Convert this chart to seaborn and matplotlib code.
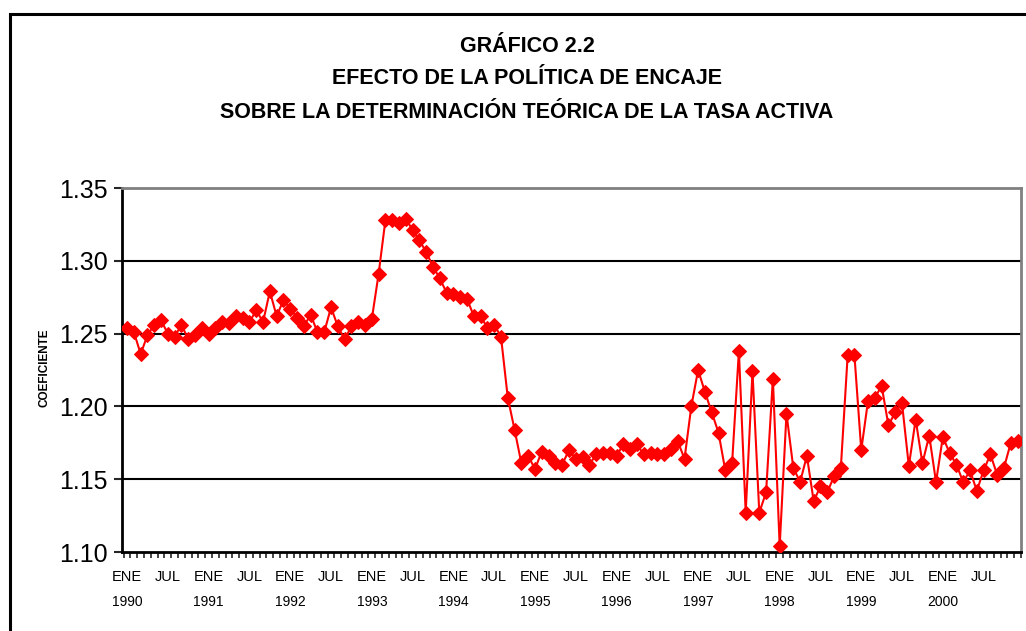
import numpy as np
import pandas as pd
import matplotlib
matplotlib.use("Agg")
import matplotlib.pyplot as plt
import matplotlib.transforms as mtransforms
from matplotlib.patches import Rectangle
import seaborn as sns

# ---- data (monthly, Jan 1990 - Dec 2000) ----
coef_1990 = [1.254, 1.251, 1.236, 1.249, 1.256, 1.259, 1.250, 1.248, 1.256, 1.246, 1.249, 1.254]
coef_1991 = [1.250, 1.254, 1.258, 1.257, 1.262, 1.261, 1.258, 1.266, 1.258, 1.279, 1.262, 1.273]
coef_1992 = [1.267, 1.261, 1.255, 1.263, 1.251, 1.251, 1.268, 1.255, 1.246, 1.255, 1.258, 1.256]
coef_1993 = [1.260, 1.291, 1.328, 1.328, 1.326, 1.329, 1.321, 1.314, 1.306, 1.296, 1.288, 1.278]
coef_1994 = [1.277, 1.275, 1.274, 1.262, 1.262, 1.254, 1.256, 1.248, 1.206, 1.184, 1.161, 1.166]
coef_1995 = [1.157, 1.169, 1.166, 1.161, 1.160, 1.170, 1.164, 1.165, 1.160, 1.167, 1.168, 1.168]
coef_1996 = [1.166, 1.174, 1.171, 1.174, 1.167, 1.168, 1.167, 1.167, 1.171, 1.176, 1.164, 1.200]
coef_1997 = [1.225, 1.210, 1.196, 1.182, 1.156, 1.161, 1.238, 1.127, 1.224, 1.127, 1.141, 1.219]
coef_1998 = [1.104, 1.195, 1.158, 1.148, 1.166, 1.135, 1.145, 1.141, 1.152, 1.158, 1.235, 1.235]
coef_1999 = [1.170, 1.204, 1.206, 1.214, 1.187, 1.196, 1.202, 1.159, 1.191, 1.161, 1.180, 1.148]
coef_2000 = [1.179, 1.168, 1.160, 1.148, 1.156, 1.142, 1.156, 1.167, 1.153, 1.158, 1.175, 1.176]

years = ["1990", "1991", "1992", "1993", "1994", "1995", "1996", "1997", "1998", "1999", "2000"]
month_labels = ["ENE", "JUL"]
y_ticks = [1.10, 1.15, 1.20, 1.25, 1.30, 1.35]

values = (coef_1990 + coef_1991 + coef_1992 + coef_1993 + coef_1994 + coef_1995 +
          coef_1996 + coef_1997 + coef_1998 + coef_1999 + coef_2000)
df = pd.DataFrame({"mes": np.arange(len(values)), "coef": values})

sns.set_style("white")
plt.rcParams["font.family"] = ["Liberation Sans", "DejaVu Sans"]

fig = plt.figure(figsize=(10.26, 6.31), dpi=100)
ax = fig.add_axes([122/1026, 1-552/631, (1021-122)/1026, (552-188)/631])

# grid lines
for yv in y_ticks[1:-1]:
    ax.axhline(yv, color="black", lw=1.5, zorder=1)

sns.lineplot(data=df, x="mes", y="coef", ax=ax, color="#FF0000", lw=1.5,
             marker="D", markersize=7.5, markeredgecolor="#FF0000",
             markerfacecolor="#FF0000", zorder=3)

ax.set_xlim(-0.75, 131.5)
ax.set_ylim(1.10, 1.35)
ax.set_yticks(y_ticks)
ax.set_yticklabels([f"{v:.2f}" for v in y_ticks], fontsize=18, color="black")
ax.tick_params(axis="y", direction="out", length=6, width=1.5, pad=4, left=True)

major = np.arange(0, len(values), 6)
ax.set_xticks(major)
ax.set_xticklabels([month_labels[(m // 6) % 2] for m in major], fontsize=10.5, color="black")
ax.tick_params(axis="x", which="major", length=0, pad=13)
ax.set_xticks(np.arange(-0.5, len(values), 1), minor=True)
ax.tick_params(axis="x", which="minor", direction="out", length=4, width=1.2, bottom=True)

trans = mtransforms.blended_transform_factory(ax.transData, fig.transFigure)
for k, yr in enumerate(years):
    ax.text(12 * k, 1 - 602/631, yr, transform=trans, ha="center", va="center",
            fontsize=10, color="black")

ax.set_xlabel("")
ax.set_ylabel("")
for s in ["left", "bottom"]:
    ax.spines[s].set_color("black")
    ax.spines[s].set_linewidth(2)
for s in ["top", "right"]:
    ax.spines[s].set_color("#808080")
    ax.spines[s].set_linewidth(2)

fig.text(45/1026, 1-368/631, "COEFICIENTE", rotation=90, ha="center", va="center",
         fontsize=8.5, fontweight="bold", color="black")

title_kw = dict(ha="center", va="center", fontsize=15.5, fontweight="bold", color="black")
fig.text(527/1026, 1-46/631, "GRÁFICO 2.2", **title_kw)
fig.text(527/1026, 1-78/631, "EFECTO DE LA POLÍTICA DE ENCAJE", **title_kw)
fig.text(527/1026, 1-112/631, "SOBRE LA DETERMINACIÓN TEÓRICA DE LA TASA ACTIVA", **title_kw)

top = 1 - 14/631
fig.patches.append(Rectangle((10/1026, -0.1), 1.1, top + 0.1,
                             transform=fig.transFigure, fill=False, edgecolor="black",
                             lw=2.2, clip_on=False))

fig.savefig("out.png", dpi=100, facecolor="white")
